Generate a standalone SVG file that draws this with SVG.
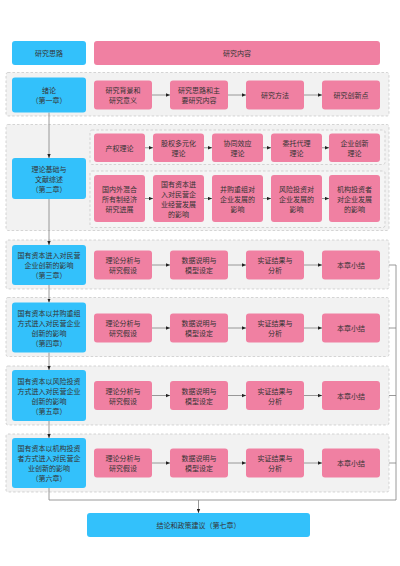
<svg xmlns="http://www.w3.org/2000/svg" width="400" height="566" viewBox="0 0 400 566">
<style>
.bg{fill:#F2F2F2;stroke:#C4C4C4;stroke-width:0.7;stroke-dasharray:2.5,2}
.inner{fill:#F5F5F5;stroke:#C4C4C4;stroke-width:0.7;stroke-dasharray:2.5,2}
.blue{fill:#33C1FB}
.pink{fill:#F080A2}
text{font-family:"Noto Sans CJK SC","Liberation Sans",sans-serif;font-size:7px;fill:#333;text-anchor:middle;dominant-baseline:central}
.ln{stroke:#808080;stroke-width:0.8;fill:none}
</style>
<defs>
<marker id="ah" viewBox="0 0 6 6" refX="6" refY="3" markerWidth="4" markerHeight="4" orient="auto" markerUnits="userSpaceOnUse">
<path d="M0,0.5 L6,3 L0,5.5 Z" fill="#222"/>
</marker>
</defs>
<rect width="400" height="566" fill="#fff"/>

<g id="backgrounds">
<rect class="bg" x="6" y="72.5" width="383" height="43.5" rx="2"/>
<rect class="bg" x="6" y="124.5" width="383" height="106" rx="2"/>
<rect class="inner" x="90" y="130" width="295" height="34.5" rx="2"/>
<rect class="inner" x="90" y="171" width="295" height="56.5" rx="2"/>
<rect class="bg" x="6" y="240" width="383" height="49" rx="2"/>
<rect class="bg" x="6" y="297.5" width="383" height="59" rx="2"/>
<rect class="bg" x="6" y="366" width="383" height="59" rx="2"/>
<rect class="bg" x="6" y="434" width="383" height="58" rx="2"/>
</g>

<g id="connectors">
<line class="ln" x1="49" y1="112.5" x2="49" y2="158" marker-end="url(#ah)"/>
<line class="ln" x1="49" y1="199" x2="49" y2="245" marker-end="url(#ah)"/>
<line class="ln" x1="49" y1="285" x2="49" y2="302.5" marker-end="url(#ah)"/>
<line class="ln" x1="49" y1="352.5" x2="49" y2="370" marker-end="url(#ah)"/>
<line class="ln" x1="49" y1="421" x2="49" y2="438" marker-end="url(#ah)"/>
<polyline class="ln" points="49,488 49,500 396,500 396,265 389,265"/>
<line class="ln" x1="389" y1="328" x2="396" y2="328"/>
<line class="ln" x1="389" y1="395.5" x2="396" y2="395.5"/>
<line class="ln" x1="389" y1="463" x2="396" y2="463"/>
<line class="ln" x1="198.5" y1="500" x2="198.5" y2="513" marker-end="url(#ah)"/>
<!-- section 1 -->
<line class="ln" x1="152" y1="95" x2="170" y2="95" marker-end="url(#ah)"/>
<line class="ln" x1="228" y1="95" x2="246" y2="95" marker-end="url(#ah)"/>
<line class="ln" x1="304" y1="95" x2="322" y2="95" marker-end="url(#ah)"/>
<!-- section 2 -->
<line class="ln" x1="145" y1="147.75" x2="153" y2="147.75" marker-end="url(#ah)"/>
<line class="ln" x1="204" y1="147.75" x2="212" y2="147.75" marker-end="url(#ah)"/>
<line class="ln" x1="263" y1="147.75" x2="271" y2="147.75" marker-end="url(#ah)"/>
<line class="ln" x1="322" y1="147.75" x2="329" y2="147.75" marker-end="url(#ah)"/>
<line class="ln" x1="145" y1="198.5" x2="153" y2="198.5" marker-end="url(#ah)"/>
<line class="ln" x1="204" y1="198.5" x2="212" y2="198.5" marker-end="url(#ah)"/>
<line class="ln" x1="263" y1="198.5" x2="271" y2="198.5" marker-end="url(#ah)"/>
<line class="ln" x1="322" y1="198.5" x2="329" y2="198.5" marker-end="url(#ah)"/>
<!-- sections 3-6 -->
<line class="ln" x1="152" y1="265" x2="170" y2="265" marker-end="url(#ah)"/>
<line class="ln" x1="228" y1="265" x2="246" y2="265" marker-end="url(#ah)"/>
<line class="ln" x1="304" y1="265" x2="322" y2="265" marker-end="url(#ah)"/>
<line class="ln" x1="152" y1="328" x2="170" y2="328" marker-end="url(#ah)"/>
<line class="ln" x1="228" y1="328" x2="246" y2="328" marker-end="url(#ah)"/>
<line class="ln" x1="304" y1="328" x2="322" y2="328" marker-end="url(#ah)"/>
<line class="ln" x1="152" y1="395.5" x2="170" y2="395.5" marker-end="url(#ah)"/>
<line class="ln" x1="228" y1="395.5" x2="246" y2="395.5" marker-end="url(#ah)"/>
<line class="ln" x1="304" y1="395.5" x2="322" y2="395.5" marker-end="url(#ah)"/>
<line class="ln" x1="152" y1="463" x2="170" y2="463" marker-end="url(#ah)"/>
<line class="ln" x1="228" y1="463" x2="246" y2="463" marker-end="url(#ah)"/>
<line class="ln" x1="304" y1="463" x2="322" y2="463" marker-end="url(#ah)"/>
</g>

<g id="h-thinking"><rect class="blue" x="12" y="41" width="74" height="24" rx="3"/><text x="49" y="53">研究思路</text></g>
<g id="h-content"><rect class="pink" x="94" y="41" width="286" height="24" rx="3"/><text x="237" y="53">研究内容</text></g>

<!-- section 1 -->
<g id="ch1"><rect class="blue" x="12" y="77.5" width="74" height="35" rx="3"/><text x="49" y="90">绪论</text><text x="49" y="100">（第一章）</text></g>
<g id="s1a"><rect class="pink" x="94" y="80.5" width="58" height="29" rx="3"/><text x="123" y="90">研究背景和</text><text x="123" y="100">研究意义</text></g>
<g id="s1b"><rect class="pink" x="170" y="80.5" width="58" height="29" rx="3"/><text x="199" y="90">研究思路和主</text><text x="199" y="100">要研究内容</text></g>
<g id="s1c"><rect class="pink" x="246" y="80.5" width="58" height="29" rx="3"/><text x="275" y="95">研究方法</text></g>
<g id="s1d"><rect class="pink" x="322" y="80.5" width="58" height="29" rx="3"/><text x="351" y="95">研究创新点</text></g>

<!-- section 2 -->
<g id="ch2"><rect class="blue" x="12" y="158" width="74" height="41" rx="3"/><text x="49" y="168.5">理论基础与</text><text x="49" y="178.5">文献综述</text><text x="49" y="188.5">（第二章）</text></g>
<g id="t1"><rect class="pink" x="94" y="133.5" width="51" height="28.5" rx="3"/><text x="119.5" y="147.75">产权理论</text></g>
<g id="t2"><rect class="pink" x="153" y="133.5" width="51" height="28.5" rx="3"/><text x="178.5" y="142.75">股权多元化</text><text x="178.5" y="152.75">理论</text></g>
<g id="t3"><rect class="pink" x="212" y="133.5" width="51" height="28.5" rx="3"/><text x="237.5" y="142.75">协同效应</text><text x="237.5" y="152.75">理论</text></g>
<g id="t4"><rect class="pink" x="271" y="133.5" width="51" height="28.5" rx="3"/><text x="296.5" y="142.75">委托代理</text><text x="296.5" y="152.75">理论</text></g>
<g id="t5"><rect class="pink" x="329" y="133.5" width="51" height="28.5" rx="3"/><text x="354.5" y="142.75">企业创新</text><text x="354.5" y="152.75">理论</text></g>
<g id="l1"><rect class="pink" x="94" y="175" width="51" height="47" rx="3"/><text x="119.5" y="188.5">国内外混合</text><text x="119.5" y="198.5">所有制经济</text><text x="119.5" y="208.5">研究进展</text></g>
<g id="l2"><rect class="pink" x="153" y="175" width="51" height="47" rx="3"/><text x="178.5" y="183.5">国有资本进</text><text x="178.5" y="193.5">入对民营企</text><text x="178.5" y="203.5">业经营发展</text><text x="178.5" y="213.5">的影响</text></g>
<g id="l3"><rect class="pink" x="212" y="175" width="51" height="47" rx="3"/><text x="237.5" y="188.5">并购重组对</text><text x="237.5" y="198.5">企业发展的</text><text x="237.5" y="208.5">影响</text></g>
<g id="l4"><rect class="pink" x="271" y="175" width="51" height="47" rx="3"/><text x="296.5" y="188.5">风险投资对</text><text x="296.5" y="198.5">企业发展的</text><text x="296.5" y="208.5">影响</text></g>
<g id="l5"><rect class="pink" x="329" y="175" width="51" height="47" rx="3"/><text x="354.5" y="188.5">机构投资者</text><text x="354.5" y="198.5">对企业发展</text><text x="354.5" y="208.5">的影响</text></g>

<!-- section 3 -->
<g id="ch3"><rect class="blue" x="12" y="245" width="74" height="40" rx="3"/><text x="49" y="255">国有资本进入对民营</text><text x="49" y="265">企业创新的影响</text><text x="49" y="275">（第三章）</text></g>
<g id="c3a"><rect class="pink" x="94" y="250.5" width="58" height="29" rx="3"/><text x="123" y="260">理论分析与</text><text x="123" y="270">研究假设</text></g>
<g id="c3b"><rect class="pink" x="170" y="250.5" width="58" height="29" rx="3"/><text x="199" y="260">数据说明与</text><text x="199" y="270">模型设定</text></g>
<g id="c3c"><rect class="pink" x="246" y="250.5" width="58" height="29" rx="3"/><text x="275" y="260">实证结果与</text><text x="275" y="270">分析</text></g>
<g id="c3d"><rect class="pink" x="322" y="250.5" width="58" height="29" rx="3"/><text x="351" y="265">本章小结</text></g>

<!-- section 4 -->
<g id="ch4"><rect class="blue" x="12" y="302.5" width="74" height="50" rx="3"/><text x="49" y="312.5">国有资本以并购重组</text><text x="49" y="322.5">方式进入对民营企业</text><text x="49" y="332.5">创新的影响</text><text x="49" y="342.5">（第四章）</text></g>
<g id="c4a"><rect class="pink" x="94" y="313.5" width="58" height="29" rx="3"/><text x="123" y="323">理论分析与</text><text x="123" y="333">研究假设</text></g>
<g id="c4b"><rect class="pink" x="170" y="313.5" width="58" height="29" rx="3"/><text x="199" y="323">数据说明与</text><text x="199" y="333">模型设定</text></g>
<g id="c4c"><rect class="pink" x="246" y="313.5" width="58" height="29" rx="3"/><text x="275" y="323">实证结果与</text><text x="275" y="333">分析</text></g>
<g id="c4d"><rect class="pink" x="322" y="313.5" width="58" height="29" rx="3"/><text x="351" y="328">本章小结</text></g>

<!-- section 5 -->
<g id="ch5"><rect class="blue" x="12" y="370" width="74" height="51" rx="3"/><text x="49" y="380.5">国有资本以风险投资</text><text x="49" y="390.5">方式进入对民营企业</text><text x="49" y="400.5">创新的影响</text><text x="49" y="410.5">（第五章）</text></g>
<g id="c5a"><rect class="pink" x="94" y="381" width="58" height="29" rx="3"/><text x="123" y="390.5">理论分析与</text><text x="123" y="400.5">研究假设</text></g>
<g id="c5b"><rect class="pink" x="170" y="381" width="58" height="29" rx="3"/><text x="199" y="390.5">数据说明与</text><text x="199" y="400.5">模型设定</text></g>
<g id="c5c"><rect class="pink" x="246" y="381" width="58" height="29" rx="3"/><text x="275" y="390.5">实证结果与</text><text x="275" y="400.5">分析</text></g>
<g id="c5d"><rect class="pink" x="322" y="381" width="58" height="29" rx="3"/><text x="351" y="395.5">本章小结</text></g>

<!-- section 6 -->
<g id="ch6"><rect class="blue" x="12" y="438" width="74" height="50" rx="3"/><text x="49" y="448">国有资本以机构投资</text><text x="49" y="458">者方式进入对民营企</text><text x="49" y="468">业创新的影响</text><text x="49" y="478">（第六章）</text></g>
<g id="c6a"><rect class="pink" x="94" y="448.5" width="58" height="29" rx="3"/><text x="123" y="458">理论分析与</text><text x="123" y="468">研究假设</text></g>
<g id="c6b"><rect class="pink" x="170" y="448.5" width="58" height="29" rx="3"/><text x="199" y="458">数据说明与</text><text x="199" y="468">模型设定</text></g>
<g id="c6c"><rect class="pink" x="246" y="448.5" width="58" height="29" rx="3"/><text x="275" y="458">实证结果与</text><text x="275" y="468">分析</text></g>
<g id="c6d"><rect class="pink" x="322" y="448.5" width="58" height="29" rx="3"/><text x="351" y="463">本章小结</text></g>

<g id="ch7"><rect class="blue" x="87" y="513" width="223" height="24" rx="3"/><text x="198.5" y="525">结论和政策建议（第七章）</text></g>
</svg>
